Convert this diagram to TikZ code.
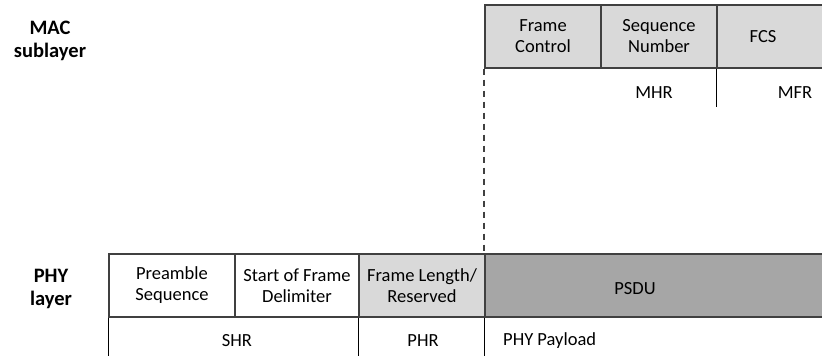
\documentclass[tikz,border=0pt]{standalone}
\usepackage{fontspec}
\setmainfont{Carlito}
\usepackage{tikz}

\definecolor{lightfield}{HTML}{D9D9D9}
\definecolor{darkfield}{HTML}{A6A6A6}
\definecolor{edge}{HTML}{404040}

\begin{document}
\begin{tikzpicture}[x=1pt,y=-1pt,
  every node/.style={font=\fontsize{18.5}{21}\selectfont, inner sep=0pt},
  cell/.style={draw=edge, line width=1.3pt, minimum height=63pt, align=center},
  layer/.style={font=\fontsize{20.5}{23}\selectfont\bfseries, align=center},
  rule/.style={black, line width=1.3pt}]
\useasboundingbox (0,0) rectangle (822,356);
% MAC sublayer
\node[layer] (mac) at (50, 41) {MAC\\sublayer};
\node[cell, fill=lightfield, minimum width=116pt] (fc) at (543, 36.5) {Frame\\Control};
\node[cell, fill=lightfield, minimum width=116pt] (sn) at (659, 36.5) {Sequence\\Number};
\node[cell, fill=lightfield, minimum width=130pt] (fcs) at (782, 36.5) {};
\node (fcstext) at (763, 36.5) {FCS};
\draw[rule] (fcs.south west) -- ++(0, 38);
\node (mhr) at (654, 93) {MHR};
\node (mfr) at (795, 93) {MFR};
% PHY layer
\node[layer] (phy) at (51, 289) {PHY\\layer};
\node[cell, minimum width=126pt] (pre) at (172, 285.5) {Preamble\\Sequence};
\node[cell, minimum width=124pt] (sfd) at (297, 285.5) {Start of Frame\\Delimiter};
\node[cell, fill=lightfield, minimum width=126pt] (flr) at (422, 285.5) {Frame Length/\\Reserved};
\node[cell, fill=darkfield, minimum width=360pt] (psdu) at (665, 285.5) {};
\node (psdutext) at (635, 289) {PSDU};
\draw[rule] (pre.south west) -- ++(0, 42);
\draw[rule] (flr.south west) -- ++(0, 42);
\draw[rule] (psdu.south west) -- ++(0, 42);
\node (shr) at (237, 341) {SHR};
\node (phr) at (423, 341) {PHR};
\node[anchor=west] (payload) at (503, 341) {PHY Payload};
\draw[edge, line width=1.8pt, dash pattern=on 6pt off 5pt] (fc.south west) -- (psdu.north west);
\end{tikzpicture}
\end{document}
